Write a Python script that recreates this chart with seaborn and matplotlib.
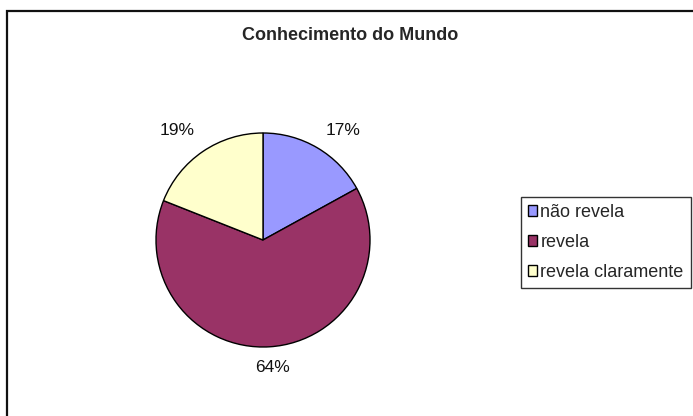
import matplotlib
matplotlib.use('Agg')
import matplotlib.pyplot as plt
import seaborn as sns
from matplotlib.patches import Patch, Rectangle

categories = ['não revela', 'revela', 'revela claramente']
values = [17, 64, 19]
colors = ['#9999FF', '#993366', '#FFFFCC']
title = 'Conhecimento do Mundo'

sns.set_theme(style='white')
plt.rcParams['font.family'] = ['Liberation Sans', 'DejaVu Sans']

W, H = 693, 416
fig = plt.figure(figsize=(W / 100, H / 100), dpi=100)
fig.patch.set_facecolor('white')

# pie centred at (263, 240) px, radius ~107 px
cx, cy, r = 263, 240, 107
ax = fig.add_axes([(cx - r) / W, (H - cy - r) / H, 2 * r / W, 2 * r / H])
wedges, texts, autotexts = ax.pie(
    values, colors=colors, startangle=90, counterclock=False,
    autopct='%1.0f%%', pctdistance=1.22,
    wedgeprops=dict(edgecolor='black', linewidth=1.0),
    textprops=dict(fontsize=12.5, color='#111111'))
ax.set_xlim(-1, 1)
ax.set_ylim(-1, 1)
ax.set_aspect('equal')

# Excel-style label placement (outside end)
label_xy = [(0.75, 1.02), (0.085, -1.19), (-0.80, 1.02)]
for t, xy in zip(autotexts, label_xy):
    t.set_position(xy)

fig.text(350 / W, 1 - 36 / H, title, ha='center', va='center',
         fontsize=13, fontweight='bold')

handles = [Patch(facecolor=c, edgecolor='black', linewidth=1.0) for c in colors]
leg = fig.legend(handles, categories, loc='upper left',
                 bbox_to_anchor=(521 / W, 1 - 197 / H),
                 frameon=True, fancybox=False, fontsize=13,
                 handlelength=0.5, handleheight=0.5, handletextpad=0.2,
                 labelspacing=0.72, borderpad=0.38, borderaxespad=0)
leg.get_frame().set_edgecolor('black')
leg.get_frame().set_linewidth(1.0)

# outer chart border, running off the right and bottom edges
fig.add_artist(Rectangle((7 / W, -0.1), 1.1, 1 - 11 / H + 0.1,
                         transform=fig.transFigure, fill=False,
                         edgecolor='#111111', linewidth=1.6))

fig.savefig('out.png', dpi=100)
